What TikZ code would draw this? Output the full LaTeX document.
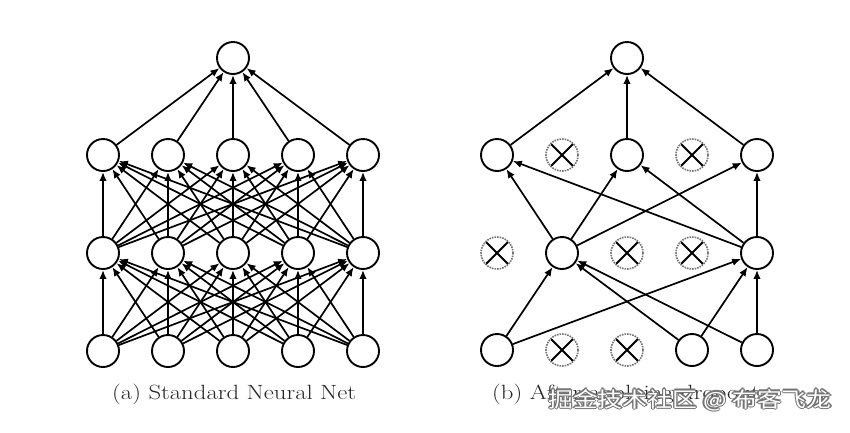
\documentclass[tikz,border=0pt]{standalone}
\usepackage{fontspec}
\newfontfamily\cjk{Noto Sans CJK SC}
\usetikzlibrary{arrows.meta}
\begin{document}
\begin{tikzpicture}[x=1pt,y=-1pt,
  unit/.style={circle,draw=black,line width=1.9pt,minimum size=32pt,inner sep=0pt,fill=white},
  dropped/.style={circle,draw=black!55,line width=1.6pt,densely dotted,minimum size=32pt,inner sep=0pt},
  xline/.style={line width=1.9pt,black,shorten >=1.5pt,shorten <=1.5pt},
  edge/.style={line width=1.7pt,-{Latex[length=9pt,width=7.5pt]}},
  captxt/.style={font=\fontsize{20.6}{24}\selectfont,text=black!85,anchor=base west,inner sep=0pt},
  wm/.style={font=\cjk\fontsize{21}{24}\selectfont,anchor=base west,inner sep=0pt}
]
\useasboundingbox (0,0) rectangle (850,432);
% ---------- (a) standard net ----------
\node[unit] (a0) at (233,58) {};
\foreach \i/\x in {1/103,2/168,3/233,4/298,5/363}{
  \node[unit] (a1-\i) at (\x,155) {};
  \node[unit] (a2-\i) at (\x,253) {};
  \node[unit] (a3-\i) at (\x,351) {};
}
\foreach \i in {1,...,5}{
  \draw[edge] (a1-\i) -- (a0);
  \foreach \j in {1,...,5}{
    \draw[edge] (a2-\i) -- (a1-\j);
    \draw[edge] (a3-\i) -- (a2-\j);
  }
}
% ---------- (b) dropout net ----------
\node[unit] (b0) at (627,58) {};
\node[unit] (b1-1) at (497,155) {};
\node[dropped] (b1-2) at (562,155) {};
\node[unit] (b1-3) at (627,155) {};
\node[dropped] (b1-4) at (692,155) {};
\node[unit] (b1-5) at (757,155) {};
\node[dropped] (b2-1) at (497,253) {};
\node[unit] (b2-2) at (562,253) {};
\node[dropped] (b2-3) at (627,253) {};
\node[dropped] (b2-4) at (692,253) {};
\node[unit] (b2-5) at (757,253) {};
\node[unit] (b3-1) at (497,350) {};
\node[dropped] (b3-2) at (562,350) {};
\node[dropped] (b3-3) at (627,350) {};
\node[unit] (b3-4) at (692,350) {};
\node[unit] (b3-5) at (757,350) {};
\foreach \n in {b1-2,b1-4,b2-1,b2-3,b2-4,b3-2,b3-3}{
  \draw[xline] (\n.45) -- (\n.225);
  \draw[xline] (\n.135) -- (\n.315);
}
\foreach \s in {b1-1,b1-3,b1-5}{\draw[edge] (\s) -- (b0);}
\foreach \s in {b2-2,b2-5}{
  \foreach \t in {b1-1,b1-3,b1-5}{\draw[edge] (\s) -- (\t);}
}
\foreach \s in {b3-1,b3-4,b3-5}{
  \foreach \t in {b2-2,b2-5}{\draw[edge] (\s) -- (\t);}
}
% ---------- captions ----------
\node[captxt] (capa) at (112,399) {\scalebox{1.2}[1]{(a) Standard Neural Net}};
\node[captxt] (capb) at (492,399) {\scalebox{1.2}[1]{(b) After applying dropout}};
% ---------- watermark ----------
\foreach \dx/\dy in {0.9/0.9,-0.9/0.9,0.9/-0.9,-0.9/-0.9,1.2/0,-1.2/0,0/1.2,0/-1.2}{
  \node[wm,text=black!55] at (548+\dx,407+\dy) {\scalebox{1.185}[1]{掘金技术社区 @ 布客飞龙}};
}
\node[wm,text=white] (wmark) at (548,407) {\scalebox{1.185}[1]{掘金技术社区 @ 布客飞龙}};
\end{tikzpicture}
\end{document}
